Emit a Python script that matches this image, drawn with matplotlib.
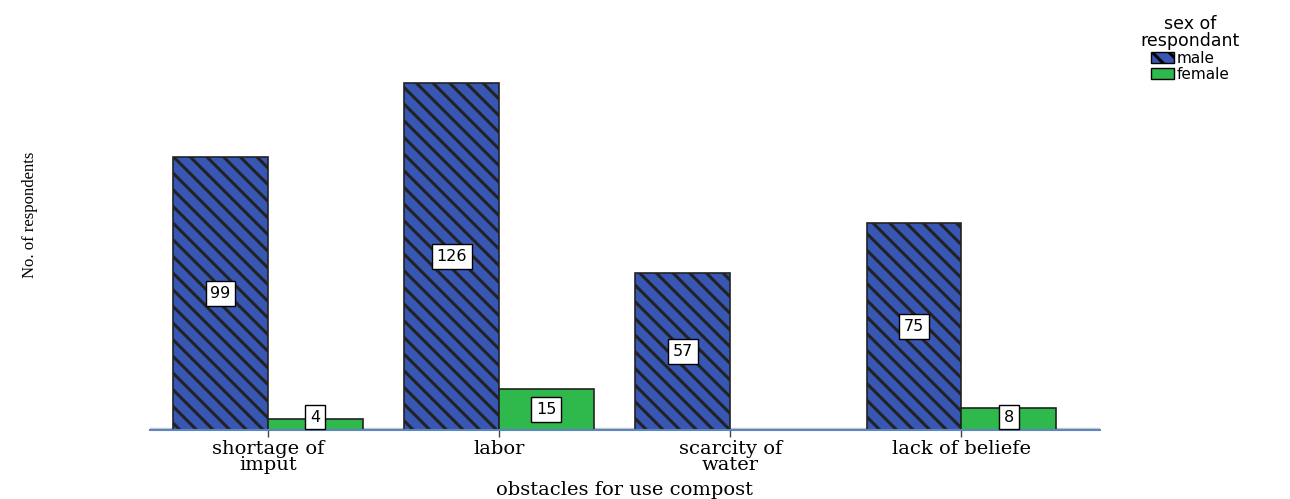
import matplotlib
matplotlib.use("Agg")
import matplotlib.pyplot as plt
import numpy as np
from matplotlib.patches import Patch

categories = ["shortage of\nimput", "labor", "scarcity of\nwater", "lack of beliefe"]
male = [99, 126, 57, 75]
female = [4, 15, 0, 8]

male_color = "#3857b3"
female_color = "#2fb84b"

plt.rcParams['hatch.linewidth'] = 2.2
plt.rcParams['hatch.color'] = 'black'

fig = plt.figure(figsize=(12.90, 4.99), dpi=100)
ax = fig.add_axes([150/1290, 69/499, 950/1290, 420/499])

x = np.arange(len(categories))
w = 0.41

mb = ax.bar(x - w/2, male, w, color=male_color, edgecolor="#222222", linewidth=1.2,
            hatch="\\\\")
fb = ax.bar(x + w/2, female, w, color=female_color, edgecolor="#222222", linewidth=1.2)

lbl_box = dict(boxstyle="square,pad=0.3", fc="white", ec="black", lw=1)
for xi, v in zip(x - w/2, male):
    if v > 0:
        ax.text(xi, v/2, str(v), ha="center", va="center", fontsize=11.5,
                bbox=lbl_box, family="DejaVu Sans")
for xi, v in zip(x + w/2, female):
    if v > 0:
        ax.text(xi, max(v/2, 4.7), str(v), ha="center", va="center", fontsize=11.5,
                bbox=lbl_box, family="DejaVu Sans")

ax.set_xlim(-0.51, 3.60)
ax.set_ylim(0, 152.3)
for s in ["top", "right", "left"]:
    ax.spines[s].set_visible(False)
ax.spines["bottom"].set_color("#5b86c0")
ax.spines["bottom"].set_linewidth(1.5)
ax.axhline(0.6, color="#c8c8c8", lw=1, xmax=1.0, zorder=0)
ax.set_yticks([])
ax.set_xticks(x)
ax.set_xticklabels(categories, family="DejaVu Serif", fontsize=14, linespacing=0.9)
ax.tick_params(axis="x", length=5, width=1, color="#444444", pad=2)

ax.set_xlabel("obstacles for use compost", family="DejaVu Serif", fontsize=14, labelpad=5)
fig.text(30/1290, 1 - 215/499, "No. of respondents", rotation=90, ha="center", va="center",
         family="Liberation Serif", fontsize=12)

handles = [Patch(facecolor=male_color, edgecolor="black", hatch="\\\\", label="male"),
           Patch(facecolor=female_color, edgecolor="black", label="female")]
leg = fig.legend(handles=handles, title="sex of\nrespondant", loc="upper left",
                 bbox_to_anchor=(1130/1290, 1 - 4/499), frameon=False, fontsize=11,
                 title_fontsize=12.5, handlelength=1.5, handleheight=0.7,
                 handletextpad=0.2, labelspacing=0.05, borderpad=0.2)
leg.get_title().set_multialignment("center")
leg.get_title().set_linespacing(0.95)

fig.savefig("out.png", dpi=100)
